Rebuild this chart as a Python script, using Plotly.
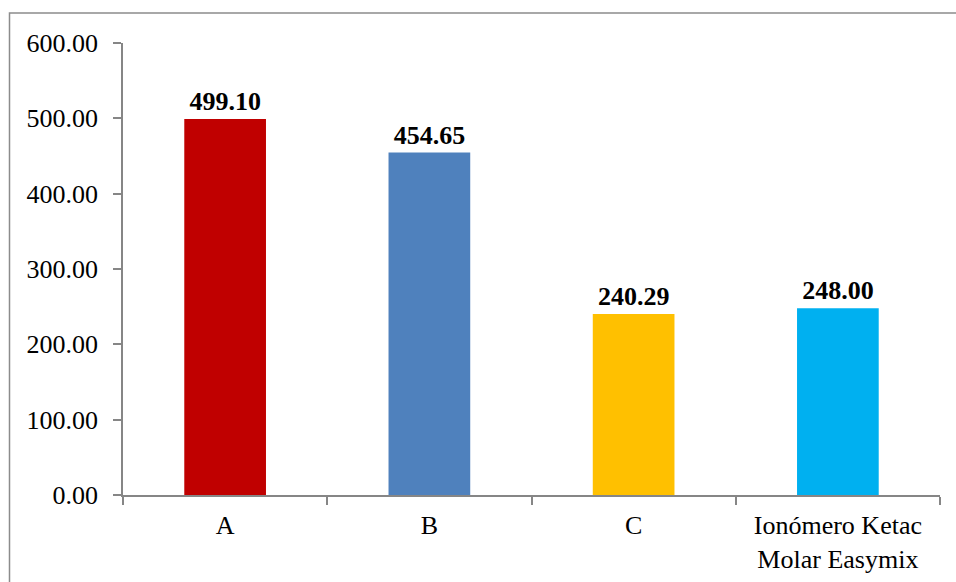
import plotly.graph_objects as go

# Categories, values and bar colours
categories = ["A", "B", "C", "Ionómero Ketac<br>Molar Easymix"]
values = [499.10, 454.65, 240.29, 248.00]
colors = ["#C00000", "#4F81BD", "#FFC000", "#00B0F0"]
y_ticks = [0, 100, 200, 300, 400, 500, 600]

FONT = "Liberation Serif"
AXIS_GRAY = "#868686"

fig = go.Figure(
    go.Bar(
        x=categories,
        y=values,
        marker=dict(color=colors, line=dict(width=0)),
        width=0.4,
        text=values,
        texttemplate="<b>%{y:.2f}</b>",
        textposition="outside",
        textfont=dict(family=FONT, size=26, color="black"),
        cliponaxis=False,
    )
)

fig.update_layout(
    width=956,
    height=582,
    margin=dict(l=123, r=16, t=43, b=87),
    paper_bgcolor="white",
    plot_bgcolor="white",
    showlegend=False,
    font=dict(family=FONT, size=26, color="black"),
    xaxis=dict(
        type="category",
        range=[-0.5, 3.5],
        automargin=False,
        showline=True,
        linecolor=AXIS_GRAY,
        linewidth=1.5,
        ticks="outside",
        tickson="boundaries",
        ticklen=8,
        tickcolor=AXIS_GRAY,
        tickwidth=1.5,
        ticklabelstandoff=6,
        tickfont=dict(family=FONT, size=26, color="black"),
        showgrid=False,
        zeroline=False,
    ),
    yaxis=dict(
        range=[0, 600],
        tickvals=y_ticks,
        tickformat=".2f",
        automargin=False,
        showline=True,
        linecolor=AXIS_GRAY,
        linewidth=1.5,
        ticks="outside",
        ticklen=8,
        tickcolor=AXIS_GRAY,
        tickwidth=1.5,
        ticklabelstandoff=10,
        tickfont=dict(family=FONT, size=26, color="black"),
        showgrid=False,
        zeroline=False,
    ),
    shapes=[
        # chart area frame
        dict(
            type="rect",
            xref="paper",
            yref="paper",
            x0=(9.5 - 123) / 817,
            x1=1.05,
            y0=-0.3,
            y1=(495 - 13) / 452,
            line=dict(color="#8C8C8C", width=1.5),
            fillcolor="rgba(0,0,0,0)",
            layer="below",
        )
    ],
)

fig.write_html("out.html")
